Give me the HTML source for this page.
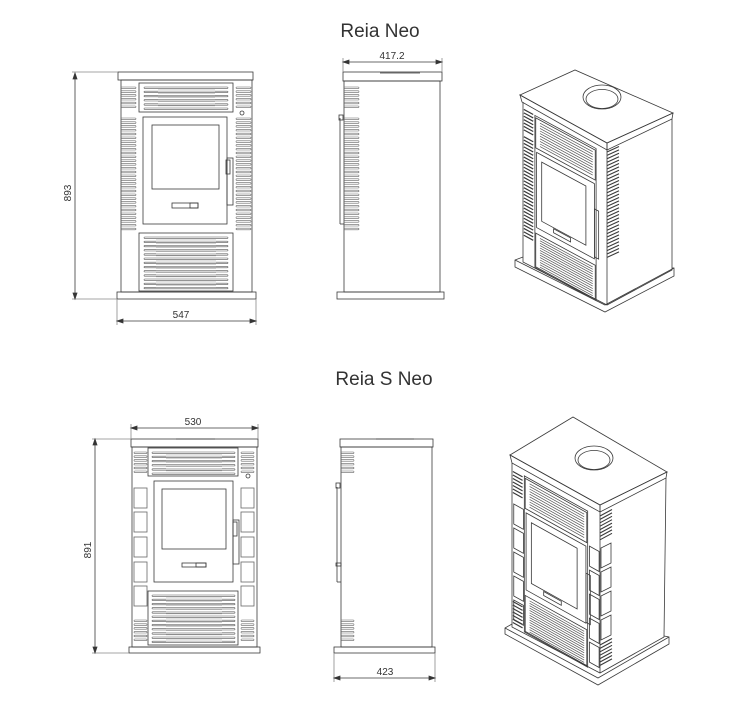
<!DOCTYPE html>
<html><head><meta charset="utf-8"><style>
html,body{margin:0;padding:0;background:#fff;}
svg{display:block;}
text{font-family:"Liberation Sans",sans-serif;fill:#333;}
</style></head><body>
<svg id="s" width="750" height="704" viewBox="0 0 750 704" xmlns="http://www.w3.org/2000/svg" fill="none" stroke="#3a3a3a" stroke-width="0.8">
<text x="380" y="37" font-size="19" text-anchor="middle" stroke="none" style="font-weight:300">Reia Neo</text>
<text x="384" y="385" font-size="19" text-anchor="middle" stroke="none" style="font-weight:300">Reia S Neo</text>
<g id="g"></g>
</svg>
<script>
var g=document.getElementById('g'),out='';
function L(x1,y1,x2,y2,c,w){out+='<line x1="'+x1+'" y1="'+y1+'" x2="'+x2+'" y2="'+y2+'"'+(c?' stroke="'+c+'"':'')+(w?' stroke-width="'+w+'"':'')+'/>';}
function R(x,y,w,h,extra){out+='<rect x="'+x+'" y="'+y+'" width="'+w+'" height="'+h+'" '+(extra||'')+'/>';}
function T(x,y,s,rot){out+='<text x="'+x+'" y="'+y+'" font-size="10" text-anchor="middle" stroke="none"'+(rot?' transform="rotate(-90 '+x+' '+y+')"':'')+'>'+s+'</text>';}
function arrowH(x1,x2,y){L(x1,y,x2,y);out+='<path d="M'+x1+' '+y+'l6 -2v4z M'+x2+' '+y+'l-6 -2v4z" fill="#333"/>';}
function arrowV(x,y1,y2){L(x,y1,x,y2);out+='<path d="M'+x+' '+y1+'l-2 6h4z M'+x+' '+y2+'l-2 -6h4z" fill="#333"/>';}
function slats(x,y0,y1,w){for(var y=y0;y<=y1;y+=3.8){R(x,y,w,1.6,'rx="0.8" stroke="#666" stroke-width="0.6"');}}
function grille(x0,x1,y0,y1,dx0,dx1){
  for(var y=y0+4;y<y1-2;y+=4.2){R(x0,y,x1-x0,1.4,'rx="0.7" stroke="#555" stroke-width="0.6"');}
  for(var y=y0+4;y<y1-2;y+=2.1){L(dx0,y,dx1,y,'#aaa',0.5);}
}
// ===== Top front view =====
R(118,72,135,8);R(121,80,131,212);R(117,292,139,7);
R(139,83,94,29);grille(144,228,83,112,158,215);
out+='<circle cx="242" cy="113" r="2"/>';
R(143,117,84,107);R(152,125,67,64);
R(172,203,26,5);R(190,203,8,5);
R(227,158,6,47);R(226,160,4,14);
R(139,233,94,58);grille(144,228,233,291,156,216);
slats(121,87,107,15);slats(121,118,230,15);
slats(236,87,107,15);slats(236,118,230,15);
L(118,72,72,72,'#888');L(117,299,72,299,'#888');
arrowV(75,73,299);T(71,193,'893',true);
L(117,299,117,325,'#888');L(256,299,256,325,'#888');
arrowH(117,256,321);T(181,318,'547');
// ===== Top side view =====
R(343,72,99,9);L(380,73,420,73);R(344,81,96,211);R(337,292,107,7);
slats(344,87,107,15);slats(344,118,230,15);
L(340,118,340,224);L(340,224,344,224);R(339,115,4,5);
L(343,72,343,58,'#888');L(442,72,442,58,'#888');
arrowH(343,442,62);T(392,59,'417.2');
// ===== Bottom front view =====
R(131,439,127,8);L(176,439,215,439);R(132,447,125,200);R(129,647,131,6);
R(148,448,90,28);grille(152,235,448,476,166,222);
out+='<circle cx="248" cy="476" r="2"/>';
R(154,481,79,101);R(162,489,64,60);
R(182,563,24,4);R(196,563,10,4);
R(233,520,6,44);R(233,522,4,14);
R(148,591,90,54);grille(152,235,591,645,166,222);
[488,512,537,562,586].forEach(function(y){R(134,y,13,20,'stroke="#666"');R(241,y,13,20,'stroke="#666"');});
slats(134,452,472,13);slats(241,452,472,13);slats(134,620,641,13);slats(241,620,641,13);
L(131,439,92,439,'#888');L(129,653,92,653,'#888');
arrowV(95,439,653);T(91,550,'891',true);
L(131,439,131,424,'#888');L(258,439,258,424,'#888');
arrowH(131,258,428);T(193,425,'530');
// ===== Bottom side view =====
R(340,439,93,8);L(376,439,414,439);R(341,447,91,200);R(334,647,101,6);
slats(341,452,472,13);slats(341,620,641,13);
L(337,487,337,582);L(337,582,341,582);R(336,483,4,5);R(336,563,5,3);
L(334,653,334,682,'#888');L(435,653,435,682,'#888');
arrowH(334,435,678);T(385,675,'423');
// ===== Iso views =====
function iso(P,cx,cy,tiles){
 out+='<polygon points="'+P.tl+' '+P.tb+' '+P.tr+' '+P.tf+'" fill="#fff"/>';
 out+='<polygon points="'+P.tl+' '+P.tf+' '+P.tf2+' '+P.tl2+'"/>';
 out+='<polygon points="'+P.tf+' '+P.tr+' '+P.tr2+' '+P.tf2+'"/>';
 out+='<ellipse cx="'+cx+'" cy="'+cy+'" rx="19" ry="12"/><ellipse cx="'+cx+'" cy="'+(cy+2)+'" rx="16" ry="9.5"/>';
 out+='<polyline points="'+P.bl0+' '+P.bl1+' '+P.bf1+' '+P.br1+' '+P.br0+'"/>';
 out+='<polyline points="'+P.bf0+' '+P.bf1+'"/>';
 out+='<polyline points="'+P.base.join(' ')+'"/>';
 out+='<polyline points="'+P.base2.join(' ')+'"/>';
 var m=P.fm, w='vector-effect="non-scaling-stroke"';
 var f='<g transform="matrix('+m.join(',')+')">';
 f+='<rect x="14" y="6" width="72" height="'+(P.H-8)+'" '+w+'/>';
 f+='<rect x="15" y="8" width="70" height="30" '+w+'/>';
 for(var y=11;y<37;y+=2.6)f+='<line x1="20" y1="'+y+'" x2="82" y2="'+y+'" '+w+' stroke="#555" stroke-width="0.7"/>';
 f+='<rect x="16" y="42" width="68" height="'+(P.H*0.47)+'" '+w+'/>';
 f+='<rect x="22" y="49" width="52" height="'+(P.H*0.37)+'" '+w+'/>';
 f+='<rect x="36" y="'+(42+P.H*0.42)+'" width="20" height="4" '+w+'/>';
 f+='<rect x="84" y="'+(P.H*0.42)+'" width="5" height="'+(P.H*0.3)+'" '+w+'/>';
 var gy=48+P.H*0.47;
 f+='<rect x="15" y="'+gy+'" width="70" height="'+(P.H-gy-3)+'" '+w+'/>';
 for(var y=gy+3;y<P.H-4;y+=2.4)f+='<line x1="20" y1="'+y+'" x2="82" y2="'+y+'" '+w+' stroke="#555" stroke-width="0.7"/>';
 if(tiles){
  for(var i=0;i<5;i++){var ty=40+i*24;f+='<rect x="2" y="'+ty+'" width="11" height="20" '+w+'/><rect x="88" y="'+ty+'" width="11" height="20" '+w+'/>';}
  for(var y=8;y<30;y+=3.5){f+='<line x1="1" y1="'+y+'" x2="12" y2="'+y+'" '+w+' stroke-width="1.2"/>';}
  for(var y=P.H-26;y<P.H-2;y+=3.5){f+='<line x1="1" y1="'+y+'" x2="12" y2="'+y+'" '+w+' stroke-width="1.2"/>';}
 } else {
  for(var y=6;y<P.H*0.84;y+=3.4){if(y>28&&y<32)continue;f+='<line x1="1" y1="'+y+'" x2="12" y2="'+y+'" '+w+' stroke-width="1.2"/>';}
 }
 f+='</g>';
 out+=f;
}
iso({tl:'520,95',tb:'575,70',tr:'673,113',tf:'607,143',tl2:'522,102',tf2:'607,150',tr2:'672,119',
 bl0:'523,102',bl1:'523,262',bf0:'607,150',bf1:'607,305',br1:'672,270',br0:'672,119',
 base:['523,257','515,260','515,267','605,312','674,276','674,268','672,268'],
 base2:['515,260','605,305','674,268'],
 fm:[0.85,0.46,0,1,523,103],H:160},602,97,false);
iso({tl:'510,455',tb:'573,417',tr:'667,472',tf:'600,505',tl2:'512,463',tf2:'600,512',tr2:'666,478',
 bl0:'512,463',bl1:'512,627',bf0:'600,512',bf1:'600,673',br1:'664,637',br0:'666,478',
 base:['512,624','505,628','505,634','598,685','669,644','669,637','664,636'],
 base2:['505,628','598,678','669,637'],
 fm:[0.88,0.49,0,1,512,463],H:164},594,458,true);
function isoSide(x0,y0,y1,k){for(var y=y0;y<y1;y+=3.4){L(x0,y,x0+12,y+k,'#3a3a3a',1.1);}}
isoSide(607,152,258,-5.5);
isoSide(600,516,542,-6.5);isoSide(600,645,668,-6.5);
// side tiles on bottom iso right column
for(var i=0;i<4;i++){var y=548+i*24;out+='<polygon points="601,'+y+' 611,'+(y-5)+' 611,'+(y+15)+' 601,'+(y+20)+'"/>';}
g.innerHTML=out;
</script>
</body></html>
